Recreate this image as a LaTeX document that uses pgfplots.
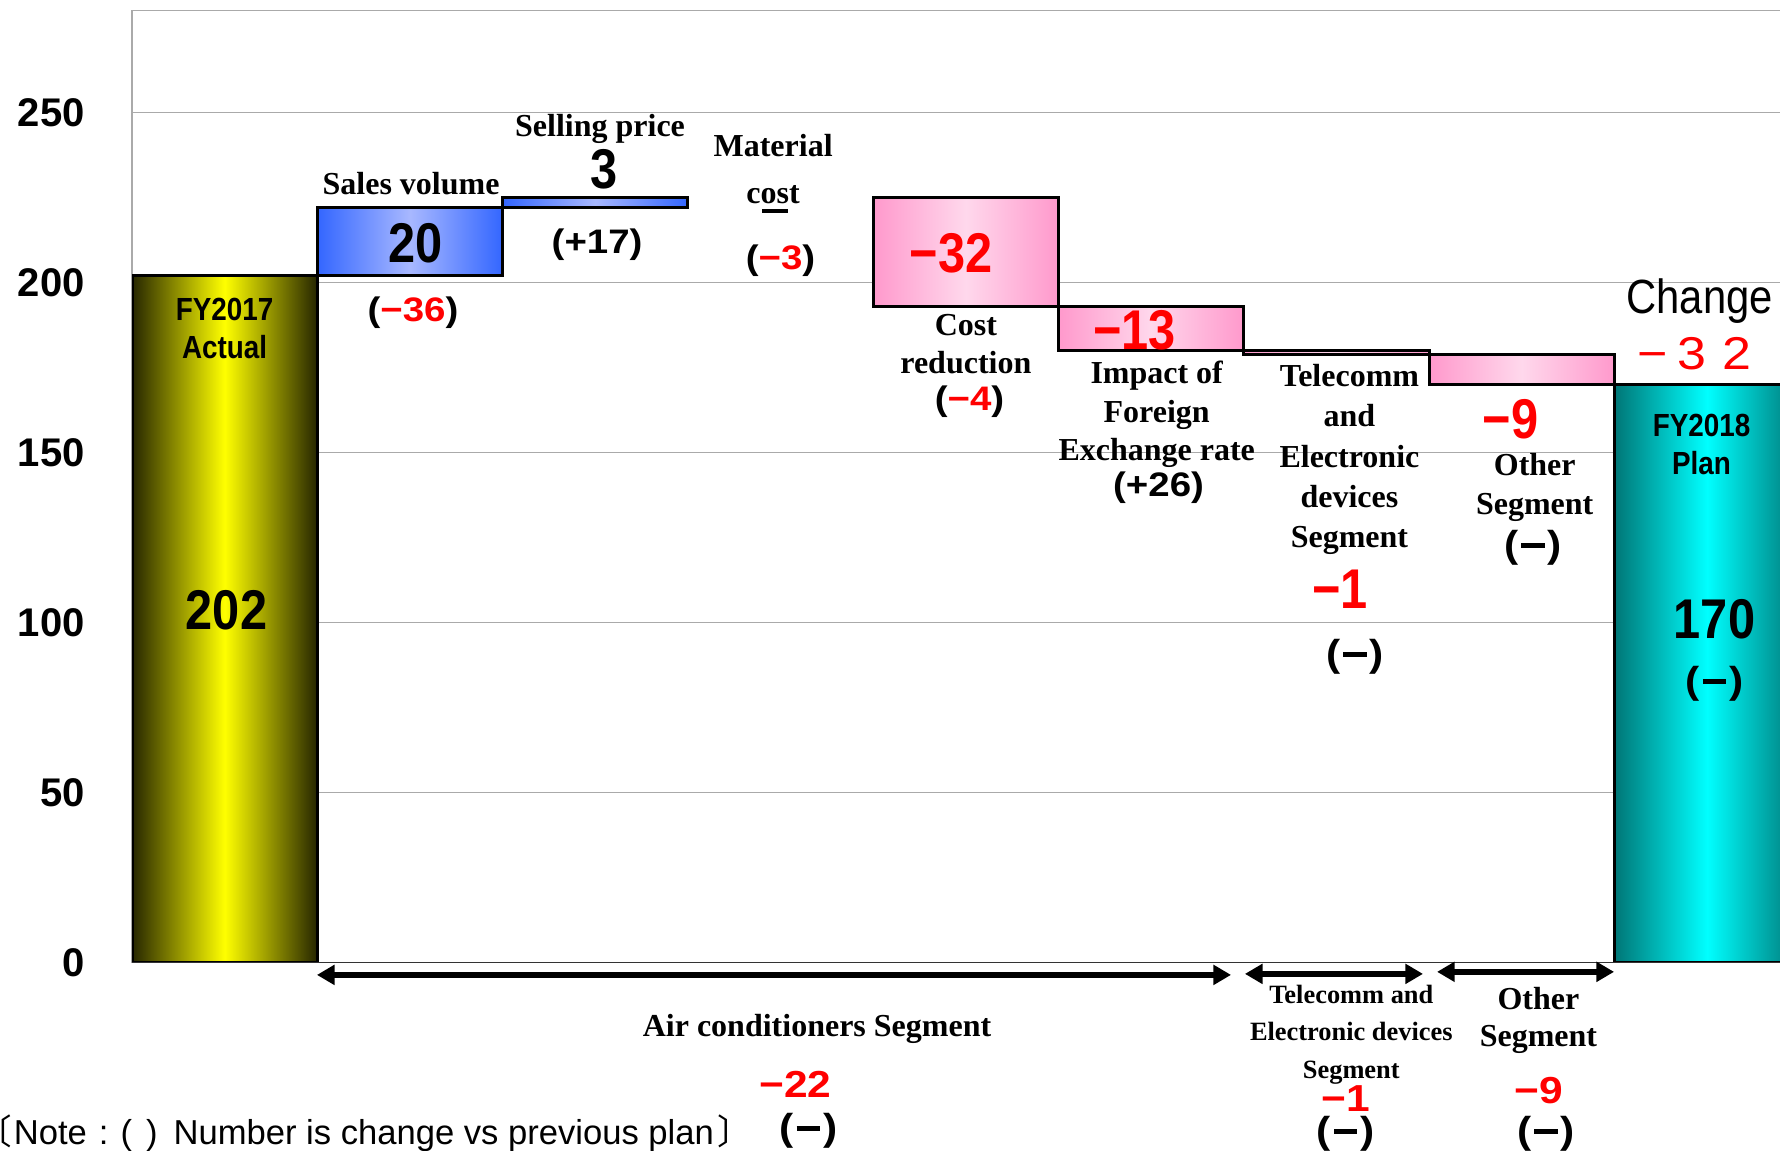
\documentclass[border=0pt]{standalone}
\usepackage{pgfplots}
\pgfplotsset{compat=1.18}
\usetikzlibrary{arrows.meta}
\usepackage{fontspec}
\setmainfont{Liberation Serif}
\newfontfamily\narrowsans{Liberation Sans}[FakeStretch=0.87]
\newfontfamily\widesans{Liberation Sans}[FakeStretch=1.13]
\newfontfamily\plainsans{Liberation Sans}
\newfontfamily\cjk{Noto Sans CJK JP}

\definecolor{ylwedge}{RGB}{38,38,0}
\definecolor{blueedge}{RGB}{51,102,255}
\definecolor{bluemid}{RGB}{168,184,255}
\definecolor{pinkedge}{RGB}{255,153,204}
\definecolor{pinkmid}{RGB}{255,216,236}
\definecolor{tealedge}{RGB}{0,118,118}
\definecolor{gridgray}{RGB}{170,170,170}

% shared geometry of the overlaid axes
\pgfplotsset{
  wf/.style={
    scale only axis, width=414.61pt, height=238pt,
    at={(33pt,47.075pt)}, anchor=south west,
    xmin=-0.5, xmax=8.45, ymin=0, ymax=280,
    bar width=1,
  },
}
% one floating step of the bridge: x, start level, change, edge colour, centre colour
\newcommand\stepbar[5]{%
  \begin{axis}[wf, hide axis, ybar stacked]
  \addplot[draw=none, fill=none] coordinates {(#1,#2)};
  \addplot[draw=black, line width=0.75pt,
    left color=#4, right color=#4, middle color=#5] coordinates {(#1,#3)};
  \end{axis}}

\tikzset{
  lbl/.style={font=\bfseries\fontsize{8}{9.6}\selectfont, align=center, inner sep=0pt},
  big/.style={font=\narrowsans\bfseries\fontsize{14}{16}\selectfont, inner sep=0pt},
  par/.style={font=\widesans\bfseries\fontsize{8.5}{10}\selectfont, inner sep=0pt},
  parl/.style={font=\widesans\bfseries\fontsize{9.4}{11}\selectfont, inner sep=0pt},
  seg/.style={line width=1.6pt, {Triangle[width=4.8pt,length=4.4pt]}-{Triangle[width=4.8pt,length=4.4pt]}},
}
\newcommand\nochg{(\kern0.08em\rule[0.25em]{0.62em}{0.14em}\kern0.08em)}

\begin{document}
\begin{tikzpicture}
\path[use as bounding box] (0,0) rectangle (445pt,287.75pt);

% frame, grid, and the two totals
\begin{axis}[wf,
  xtick=\empty,
  ytick={0,50,100,150,200,250},
  yticklabels={0,50,100,150,200,250},
  yticklabel style={font=\plainsans\bfseries\fontsize{10}{12}\selectfont, xshift=-8.3pt},
  ymajorgrids, major grid style={gridgray, line width=0.4pt},
  axis line style={gridgray, line width=0.4pt},
  tick style={draw=none},
]
\addplot[ybar, bar shift=0pt, draw=black, line width=0.75pt,
  left color=ylwedge, right color=ylwedge, middle color=yellow]
  coordinates {(0,202)};
\addplot[ybar, bar shift=0pt, draw=black, line width=0.75pt,
  left color=tealedge, right color=tealedge, middle color=cyan]
  coordinates {(8,170)};
\draw[black!80, line width=0.5pt] (axis cs:-0.5,0) -- (axis cs:8.45,0);
\end{axis}

% increases (material cost, x=3, is 0 and has no bar)
\stepbar{1}{202}{20}{blueedge}{bluemid}
\stepbar{2}{222}{3}{blueedge}{bluemid}
% decreases
\stepbar{4}{193}{32}{pinkedge}{pinkmid}
\stepbar{5}{180}{13}{pinkedge}{pinkmid}
\stepbar{6}{179}{1}{pinkedge}{pinkmid}
\stepbar{7}{170}{9}{pinkedge}{pinkmid}

% labels and segment spans
\begin{axis}[wf, hide axis, clip=false]
% FY2017
\node[font=\narrowsans\bfseries\fontsize{8}{9.5}\selectfont, align=center, inner sep=0pt]
  at (axis cs:0,186.6) {FY2017\\Actual};
\node[big] at (axis cs:0.01,103.7) {202};
% sales volume
\node[lbl] at (axis cs:1.006,229.1) {Sales volume};
\node[big] at (axis cs:1.03,211.5) {20};
\node[par] at (axis cs:1.016,191.2) {(\textcolor{red}{−36})};
% selling price
\node[lbl] at (axis cs:2.026,245.1) {Selling price};
\node[big] at (axis cs:2.05,233.5) {3};
\node[par] at (axis cs:2.01,211.3) {(+17)};
% material cost
\node[lbl, font=\bfseries\fontsize{8}{11.75}\selectfont] at (axis cs:2.96,233.4) {Material\\cost};
\node[inner sep=0pt] at (axis cs:2.97,221.1) {\rule{6.5pt}{1pt}};
\node[par] at (axis cs:3.0,206.6) {(\textcolor{red}{−3})};
% cost reduction
\node[big, red] at (axis cs:3.92,208.7) {−32};
\node[lbl, font=\bfseries\fontsize{8}{9.5}\selectfont] at (axis cs:4.0,182.0) {Cost\\reduction};
\node[par] at (axis cs:4.02,165.1) {(\textcolor{red}{−4})};
% foreign exchange
\node[big, red] at (axis cs:4.91,186.1) {−13};
\node[lbl, font=\bfseries\fontsize{8}{9.6}\selectfont] at (axis cs:5.03,161.2) {Impact of\\Foreign\\Exchange rate};
\node[par] at (axis cs:5.04,139.8) {(+26)};
% telecomm and electronic devices
\node[lbl, font=\bfseries\fontsize{8}{10.1}\selectfont] at (axis cs:6.07,148.0) {Telecomm\\and\\Electronic\\devices\\Segment};
\node[big, red] at (axis cs:6.02,109.9) {−1};
\node[parl] at (axis cs:6.1,89.9) {\nochg};
% other
\node[big, red] at (axis cs:6.94,159.9) {−9};
\node[lbl, font=\bfseries\fontsize{8}{9.75}\selectfont] at (axis cs:7.07,139.7) {Other\\Segment};
\node[parl] at (axis cs:7.06,122.1) {\nochg};
% FY2018
\node[font=\narrowsans\fontsize{12}{14}\selectfont, inner sep=0pt] at (axis cs:7.96,194.6) {Change};
\node[font=\widesans\fontsize{11.5}{13}\selectfont, text=red, inner sep=0pt] at (axis cs:7.93,179.0) {−\hspace{2.5pt}3\hspace{4pt}2};
\node[font=\narrowsans\bfseries\fontsize{8}{9.5}\selectfont, align=center, inner sep=0pt]
  at (axis cs:7.97,152.4) {FY2018\\Plan};
\node[big] at (axis cs:8.04,101.1) {170};
\node[parl] at (axis cs:8.04,82.0) {\nochg};

% segment spans under the axis
\draw[seg] (axis cs:0.498,-3.6) -- (axis cs:5.431,-3.6);
\draw[seg] (axis cs:5.506,-3.3) -- (axis cs:6.467,-3.3);
\draw[seg] (axis cs:6.543,-2.7) -- (axis cs:7.498,-2.7);

\node[lbl] at (axis cs:3.197,-19.6) {Air conditioners Segment};
\node[parl, text=red] at (axis cs:3.08,-35.7) {−22};
\node[parl] at (axis cs:3.15,-49.5) {\nochg};

\node[lbl, font=\bfseries\fontsize{6.6}{9.4}\selectfont] at (axis cs:6.08,-21.1) {Telecomm and\\Electronic devices\\Segment};
\node[parl, text=red] at (axis cs:6.05,-40.1) {−1};
\node[parl] at (axis cs:6.05,-50.4) {\nochg};

\node[lbl, font=\bfseries\fontsize{8}{9.25}\selectfont] at (axis cs:7.09,-16.9) {Other\\Segment};
\node[parl, text=red] at (axis cs:7.09,-37.5) {−9};
\node[parl] at (axis cs:7.13,-50.4) {\nochg};

\node[anchor=base west, inner sep=0pt, font=\plainsans\fontsize{8.65}{10}\selectfont]
  at (axis cs:-1.142,-53.6)
  {\llap{{\cjk 〔}\kern0.5pt}Note\hspace{3pt}:\hspace{3pt}(\hspace{3.5pt})\hspace{4pt}Number is change vs previous plan\kern1pt{\cjk 〕}};
\end{axis}
\end{tikzpicture}
\end{document}
